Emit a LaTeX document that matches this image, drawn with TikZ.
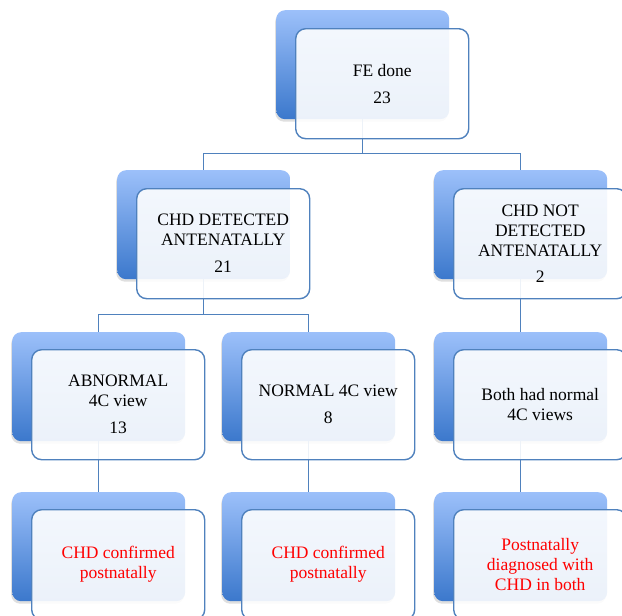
\documentclass[tikz,border=0pt]{standalone}
\usepackage{fontspec}
\setmainfont{Liberation Serif}
\usetikzlibrary{shadows}
\definecolor{bord}{HTML}{4F81BD}
\definecolor{btop}{HTML}{9CC0FA}
\definecolor{bbot}{HTML}{3B78CC}
\definecolor{redtxt}{HTML}{FF0000}
\begin{document}
\begin{tikzpicture}[x=1pt,y=1pt,
 backbox/.style={draw=none, rounded corners=9pt, minimum width=173pt, minimum height=109pt, inner sep=0pt, anchor=north west, top color=btop, bottom color=bbot, drop shadow={opacity=0.25, shadow xshift=-1pt, shadow yshift=-2.5pt}},
 frontbox/.style={draw=bord, line width=1.4pt, rounded corners=10pt, fill=white, fill opacity=0.9, text opacity=1, minimum width=173pt, minimum height=110pt, inner sep=2pt, anchor=north west, align=center, font=\fontsize{17.5}{20}\selectfont},
 redbox/.style={frontbox, text=redtxt},
 conn/.style={draw=bord, line width=1.3pt}]
\useasboundingbox (0,0) rectangle (622,-616);
% back boxes
\node[backbox] (b1) at (276,-10) {};
\node[backbox] (b2l) at (117,-170) {};
\node[backbox] (b2r) at (434,-170) {};
\node[backbox] (b3l) at (12,-332) {};
\node[backbox] (b3m) at (222,-332) {};
\node[backbox] (b3r) at (434,-332) {};
\node[backbox] (b4l) at (12,-492) {};
\node[backbox] (b4m) at (222,-492) {};
\node[backbox] (b4r) at (434,-492) {};
% connectors
\draw[conn] (b1.south) -- ++(0,-34) -| (b2l.north);
\draw[conn] (b1.south) -- ++(0,-34) -| (b2r.north);
\draw[conn] (b2l.south) -- ++(0,-35) -| (b3l.north);
\draw[conn] (b2l.south) -- ++(0,-35) -| (b3m.north);
\draw[conn] (b2r.south) -- (b3r.north);
\draw[conn] (b3l.south) -- (b4l.north);
\draw[conn] (b3m.south) -- (b4m.north);
\draw[conn] (b3r.south) -- (b4r.north);
% front boxes
\node[frontbox] (f1) at (295,-28) {FE done\\[7pt]23};
\node[frontbox] (f2l) at (136,-188) {CHD DETECTED\\ANTENATALLY\\[7pt]21};
\node[frontbox] (f2r) at (453,-188) {CHD NOT\\DETECTED\\ANTENATALLY\\[6pt]2};
\node[frontbox] (f3l) at (31,-349) {ABNORMAL\\4C view\\[7pt]13};
\node[frontbox] (f3m) at (241,-349) {NORMAL 4C view\\[7pt]8};
\node[frontbox] (f3r) at (453,-349) {Both had normal\\4C views};
\node[redbox] (f4l) at (31,-509) {CHD confirmed\\postnatally};
\node[redbox] (f4m) at (241,-509) {CHD confirmed\\postnatally};
\node[redbox] (f4r) at (453,-509) {Postnatally\\diagnosed with\\CHD in both};
\end{tikzpicture}
\end{document}
